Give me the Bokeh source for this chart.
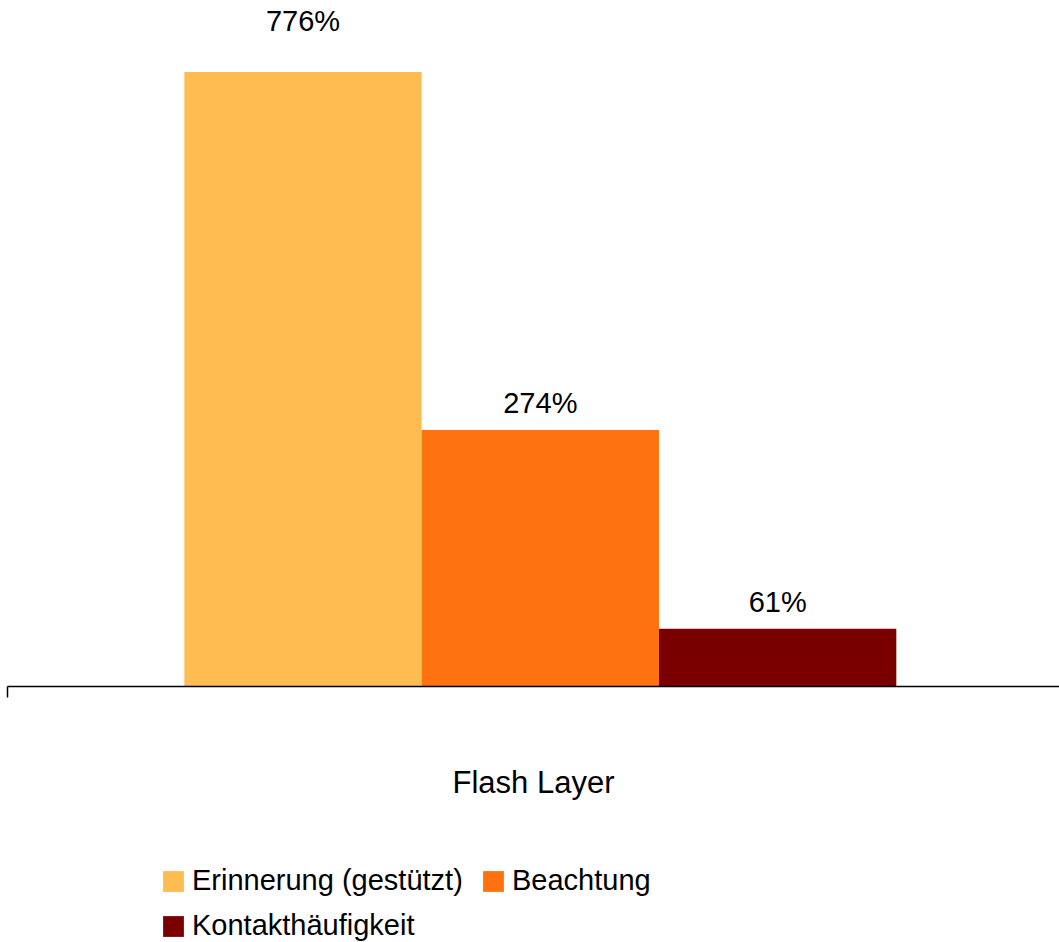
from bokeh.plotting import figure
from bokeh.models import (ColumnDataSource, Range1d, FixedTicker, Legend, LegendItem)
from bokeh.core.properties import value
from bokeh.embed import file_html
from bokeh.resources import INLINE

# ---- data ----
category = "Flash Layer"
series = ["Erinnerung (gestützt)", "Beachtung", "Kontakthäufigkeit"]
values = [776, 324, 73]            # bar heights
labels = ["776%", "274%", "61%"]   # printed data labels
colors = ["#FFBC50", "#FF720F", "#7A0000"]

FONT = "Liberation Sans"

W, H = 1059, 942
x = list(range(1, len(series) + 1))
x_start, x_end = -0.27459, 4.18755
unit_px = 237.33
axis_x0 = -0.24299
axis_x1 = x_start + 1074.5 / unit_px
y_start, y_end = -323.3, 866.3

top_label = max(values)
lab_y = [y_end if v == top_label else v for v in values]
lab_off = [20 if v == top_label else -27 for v in values]

src = ColumnDataSource(dict(x=x, top=values, color=colors, name=series,
                            lab=labels, lab_y=lab_y, lab_off=lab_off))

p = figure(frame_width=W, frame_height=H,
           x_range=Range1d(x_start, x_end), y_range=Range1d(y_start, y_end),
           y_axis_location=None, toolbar_location=None,
           output_backend="svg", min_border_left=0, min_border_right=0,
           min_border_top=0, min_border_bottom=0)
p.outline_line_color = None
p.grid.visible = False
p.background_fill_color = "white"
p.border_fill_color = "white"

r = p.vbar(x="x", top="top", bottom=0, width=1.0, source=src,
           fill_color="color", line_color=None)

p.text(x="x", y="lab_y", text="lab", y_offset="lab_off", source=src,
       text_font=value(FONT), text_font_size="29px", text_color="black",
       text_align="center", text_baseline="alphabetic")

ax = p.xaxis[0]
ax.fixed_location = 0
ax.bounds = (axis_x0, axis_x1)
ax.ticker = FixedTicker(ticks=[axis_x0])
ax.major_label_overrides = {axis_x0: ""}
ax.major_label_text_font_size = "1px"
ax.major_tick_in = 0
ax.major_tick_out = 11
ax.major_tick_line_color = "black"
ax.minor_tick_line_color = None
ax.axis_line_color = "black"
ax.axis_line_width = 1.5
ax.major_tick_line_width = 1.5
ax.axis_label = category
ax.axis_label_text_font = FONT
ax.axis_label_text_font_size = "31px"
ax.axis_label_text_font_style = "normal"
ax.axis_label_text_color = "black"
ax.axis_label_standoff = 67

items = [LegendItem(label=s, renderers=[r], index=i) for i, s in enumerate(series)]
legend = Legend(items=items, orientation="horizontal", ncols=2,
                location=(160, 0), glyph_width=26, glyph_height=26,
                label_standoff=6, spacing=12, padding=0, margin=0,
                label_width=276,
                border_line_color=None, background_fill_alpha=0,
                label_text_font=FONT, label_text_font_size="29px",
                label_text_color="black")
p.add_layout(legend, "center")

open("out.html", "w").write(file_html(p, INLINE))
